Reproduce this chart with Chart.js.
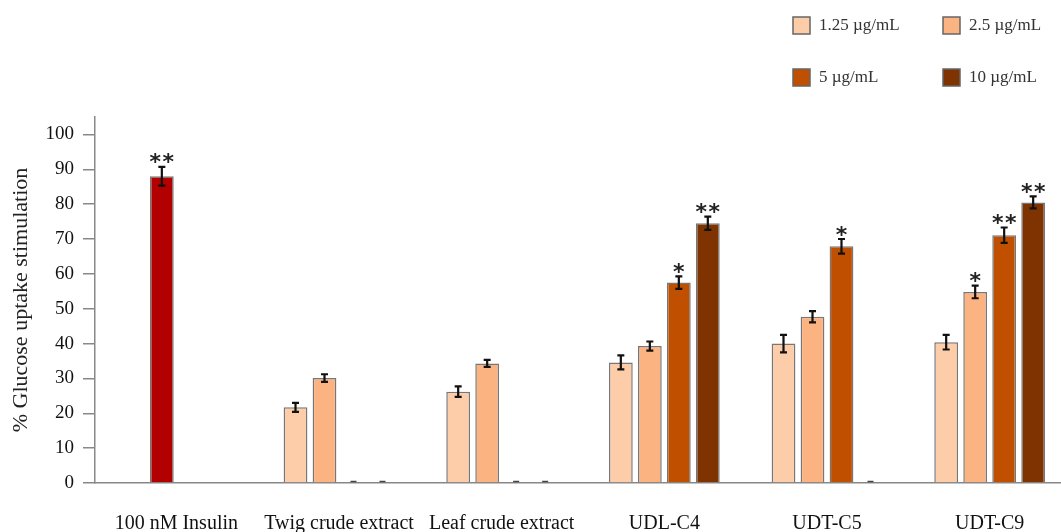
<!DOCTYPE html>
<html>
<head>
<meta charset="utf-8">
<script src="https://cdn.jsdelivr.net/npm/chart.js@4/dist/chart.umd.min.js"></script>
<style>
  html, body { margin: 0; padding: 0; background: #fff; overflow: hidden; }
  canvas { display: block; }
</style>
</head>
<body>
<canvas id="chart" width="1071" height="532"></canvas>
<script>
// categories and values
const categories = ["100 nM Insulin", "Twig crude extract", "Leaf crude extract", "UDL-C4", "UDT-C5", "UDT-C9"];
const seriesNames = ["1.25 µg/mL", "2.5 µg/mL", "5 µg/mL", "10 µg/mL"];

const c125 = [null, 21.7, 26.2, 34.6, 40.0, 40.4];
const c25  = [88.0, 30.1, 34.3, 39.3, 47.7, 54.8]; // insulin sits in this slot
const c5   = [null, 0, 0, 57.5, 67.9, 71.1];
const c10  = [null, 0, 0, 74.5, 0, 80.5];

// error bar half widths
const e125 = [0, 1.3, 1.5, 2.0, 2.5, 2.1];
const e25  = [2.7, 1.1, 1.0, 1.3, 1.6, 1.8];
const e5   = [0, 0, 0, 1.8, 2.1, 2.2];
const e10  = [0, 0, 0, 1.9, 0, 1.7];

// significance marks
const s125 = ["", "", "", "", "", ""];
const s25  = ["**", "", "", "", "", "*"];
const s5   = ["", "", "", "*", "*", "**"];
const s10  = ["", "", "", "**", "", "**"];

const yTicks = [0, 10, 20, 30, 40, 50, 60, 70, 80, 90, 100];

const colors = ["#FDCDAA", "#FCB382", "#C04F00", "#7E3300"];
const insulinColor = "#B20000";
const serif = "'Liberation Serif', 'Times New Roman', serif";

const values = [c125, c25, c5, c10];
const errors = [e125, e25, e5, e10];
const stars = [s125, s25, s5, s10];

// error bars, stars and the little dashes for zero values
const extrasPlugin = {
    id: "extras",
    afterDatasetsDraw(chart) {
        const ctx = chart.ctx;
        const y = chart.scales.y;
        ctx.save();
        chart.data.datasets.forEach((ds, di) => {
            const meta = chart.getDatasetMeta(di);
            meta.data.forEach((bar, i) => {
                const v = values[di][i];
                if (v === null) return;
                if (v === 0) {
                    ctx.strokeStyle = "#444";
                    ctx.lineWidth = 1.5;
                    ctx.beginPath();
                    ctx.moveTo(bar.x - 3, y.getPixelForValue(0) - 1.5);
                    ctx.lineTo(bar.x + 3, y.getPixelForValue(0) - 1.5);
                    ctx.stroke();
                    return;
                }
                const err = errors[di][i];
                const top = y.getPixelForValue(v + err);
                const bot = y.getPixelForValue(v - err);
                ctx.strokeStyle = "#111";
                ctx.lineWidth = 2.2;
                ctx.beginPath();
                ctx.moveTo(bar.x, top);
                ctx.lineTo(bar.x, bot);
                ctx.moveTo(bar.x - 3.5, top);
                ctx.lineTo(bar.x + 3.5, top);
                ctx.moveTo(bar.x - 3.5, bot);
                ctx.lineTo(bar.x + 3.5, bot);
                ctx.stroke();
                const s = stars[di][i];
                if (s) {
                    ctx.fillStyle = "#222";
                    ctx.font = "bold 22px 'DejaVu Sans', sans-serif";
                    ctx.textAlign = "center";
                    ctx.textBaseline = "alphabetic";
                    const n = s.length;
                    for (let k = 0; k < n; k++) {
                        const dx = (k - (n - 1) / 2) * 13;
                        ctx.fillText("*", bar.x + dx, top + 2.5);
                    }
                }
            });
        });
        ctx.restore();
    }
};

// legend in two columns at the top right
const legendPlugin = {
    id: "cornerLegend",
    afterDraw(chart) {
        const ctx = chart.ctx;
        const spots = [[793, 17], [943, 17], [793, 69], [943, 69]];
        ctx.save();
        seriesNames.forEach((name, i) => {
            const [x, yy] = spots[i];
            ctx.fillStyle = colors[i];
            ctx.fillRect(x, yy, 17, 17);
            ctx.strokeStyle = "#666";
            ctx.lineWidth = 1.5;
            ctx.strokeRect(x, yy, 17, 17);
            ctx.fillStyle = "#333";
            ctx.font = "17px " + serif;
            ctx.textAlign = "left";
            ctx.textBaseline = "middle";
            ctx.fillText(name, x + 26, yy + 9);
        });
        ctx.restore();
    }
};

function makeDataset(i) {
    return {
        label: seriesNames[i],
        data: values[i],
        backgroundColor: (c) => (i === 1 && c.dataIndex === 0 ? insulinColor : colors[i]),
        borderColor: "#777",
        borderWidth: 1.5,
        borderSkipped: "bottom",
        categoryPercentage: 0.713,
        barPercentage: 0.82
    };
}

const ctx = document.getElementById("chart").getContext("2d");
new Chart(ctx, {
    type: "bar",
    data: {
        labels: categories,
        datasets: [0, 1, 2, 3].map(makeDataset)
    },
    options: {
        responsive: false,
        animation: false,
        layout: { padding: { top: 117, right: 0, left: 0, bottom: 0 } },
        plugins: {
            legend: { display: false },
            tooltip: { enabled: false }
        },
        scales: {
            x: {
                grid: { display: false, drawTicks: false },
                border: { color: "#888", width: 1.5 },
                ticks: { padding: 29, color: "#111", font: { family: serif, size: 20 }, maxRotation: 0 },
                afterFit: (s) => { s.height = 49; }
            },
            y: {
                min: 0,
                max: 105,
                afterBuildTicks: (s) => { s.ticks = yTicks.map(v => ({ value: v })); },
                grid: { drawOnChartArea: false, tickLength: 12, color: "#888", lineWidth: 1.5 },
                border: { color: "#888", width: 1.5 },
                ticks: { padding: 9, color: "#111", font: { family: serif, size: 19 } },
                title: {
                    display: true,
                    text: "% Glucose uptake stimulation",
                    color: "#222",
                    font: { family: serif, size: 22 },
                    padding: { top: 8, bottom: 4 }
                },
                afterFit: (s) => { s.width = 95; }
            }
        }
    },
    plugins: [extrasPlugin, legendPlugin]
});
</script>
</body>
</html>
